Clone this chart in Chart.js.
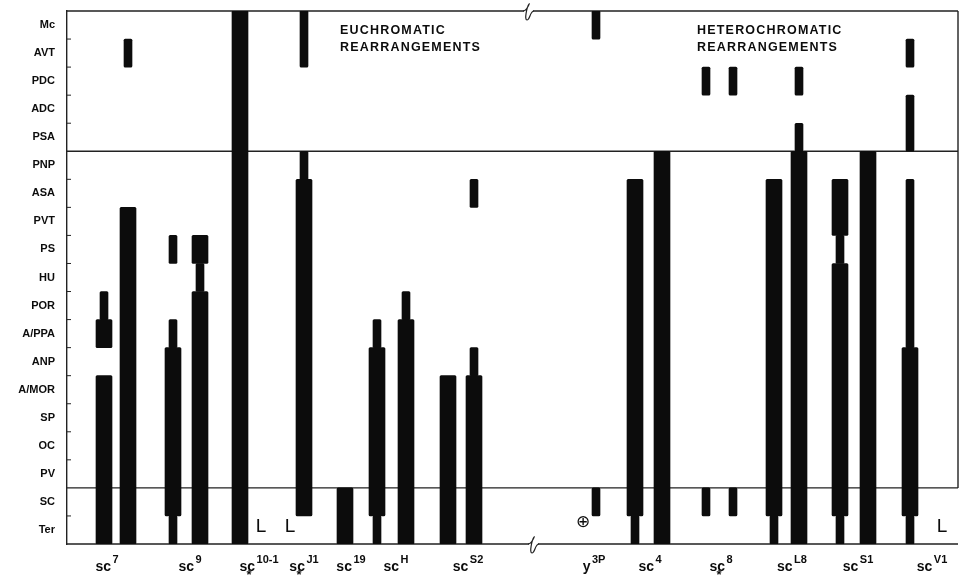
<!DOCTYPE html>
<html>
<head>
<meta charset="utf-8">
<style>
  html, body { margin: 0; padding: 0; background: #fff; }
  canvas { display: block; }
</style>
<script src="https://cdn.jsdelivr.net/npm/chart.js@4.4.0/dist/chart.umd.min.js"></script>
</head>
<body>
<canvas id="chart" width="960" height="575"></canvas>
<script>
'use strict';

// rows, top to bottom
var rows = ['Mc', 'AVT', 'PDC', 'ADC', 'PSA', 'PNP', 'ASA', 'PVT', 'PS', 'HU',
  'POR', 'A/PPA', 'ANP', 'A/MOR', 'SP', 'OC', 'PV', 'SC', 'Ter'];

// mutants along the bottom
var mutantBase = ['sc', 'sc', 'sc', 'sc', 'sc', 'sc', 'sc', 'y', 'sc', 'sc', 'sc', 'sc', 'sc'];
var mutantSup = ['7', '9', '10-1', 'J1', '19', 'H', 'S2', '3P', '4', '8', 'L8', 'S1', 'V1'];
var mutantPos = [4.0, 12.3, 19.2, 23.7, 28.4, 32.9, 40.1, 52.7, 58.3, 65.4, 72.5, 79.1, 86.5];
var mutantStar = [false, false, true, true, false, false, false, false, false, true, false, false, false];

// column tracks (position along x)
var columnPos = [3.7, 6.1, 10.6, 13.3, 17.3, 23.7, 27.8, 31.0, 33.9, 38.1, 40.7,
  52.9, 56.8, 59.5, 63.9, 66.6, 70.7, 73.2, 77.3, 80.1, 84.3];

// [column, lowest row, highest row]
var thickSegs = [
  [0, 'A/PPA', 'A/PPA'], [0, 'Ter', 'A/MOR'],
  [1, 'Ter', 'PVT'],
  [2, 'SC', 'ANP'],
  [3, 'PS', 'PS'], [3, 'Ter', 'POR'],
  [4, 'Ter', 'Mc'],
  [5, 'SC', 'ASA'],
  [6, 'Ter', 'SC'],
  [7, 'SC', 'ANP'],
  [8, 'Ter', 'A/PPA'],
  [9, 'Ter', 'A/MOR'],
  [10, 'Ter', 'A/MOR'],
  [12, 'SC', 'ASA'],
  [13, 'Ter', 'PNP'],
  [16, 'SC', 'ASA'],
  [17, 'Ter', 'PNP'],
  [18, 'PVT', 'ASA'], [18, 'SC', 'HU'],
  [19, 'Ter', 'PNP'],
  [20, 'SC', 'ANP']
];

var thinSegs = [
  [0, 'POR', 'POR'],
  [1, 'AVT', 'AVT'],
  [2, 'PS', 'PS'], [2, 'A/PPA', 'A/PPA'], [2, 'Ter', 'Ter'],
  [3, 'HU', 'HU'],
  [5, 'AVT', 'Mc'], [5, 'PNP', 'PNP'],
  [7, 'A/PPA', 'A/PPA'], [7, 'Ter', 'Ter'],
  [8, 'POR', 'POR'],
  [10, 'ANP', 'ANP'], [10, 'ASA', 'ASA'],
  [11, 'Mc', 'Mc'], [11, 'SC', 'SC'],
  [12, 'Ter', 'Ter'],
  [14, 'PDC', 'PDC'], [14, 'SC', 'SC'],
  [15, 'PDC', 'PDC'], [15, 'SC', 'SC'],
  [16, 'Ter', 'Ter'],
  [17, 'PDC', 'PDC'], [17, 'PSA', 'PSA'],
  [18, 'PS', 'PS'], [18, 'Ter', 'Ter'],
  [20, 'AVT', 'AVT'], [20, 'PSA', 'ADC'], [20, 'A/PPA', 'ASA'], [20, 'Ter', 'Ter']
];

// small marks in the lower band: [text, x, y]
var marks = [['L', 19.4, 0.6], ['L', 22.3, 0.6], ['L', 87.5, 0.6], ['\u2295', 51.6, 0.78]];

var dividers = [2, 14];

function rowBottom(name) {
  return rows.length - 1 - rows.indexOf(name);
}

function toBars(segs) {
  return segs.map(function(s) {
    return { x: columnPos[s[0]], y: [rowBottom(s[1]), rowBottom(s[2]) + 1] };
  });
}

var FONT = '"Liberation Sans", Arial, sans-serif';
var INK = '#0c0c0c';

function breakMark(ctx, x, y) {
  ctx.save();
  ctx.strokeStyle = '#fff';
  ctx.lineWidth = 4;
  ctx.beginPath();
  ctx.moveTo(x - 4, y);
  ctx.lineTo(x + 5, y);
  ctx.stroke();
  ctx.strokeStyle = '#222';
  ctx.lineWidth = 1.2;
  ctx.beginPath();
  ctx.moveTo(x - 5, y);
  ctx.bezierCurveTo(x - 1, y, x + 2, y - 9, x + 1, y - 7);
  ctx.bezierCurveTo(x - 1, y - 4, x - 4, y + 9, x - 1, y + 9);
  ctx.bezierCurveTo(x + 2, y + 9, x + 2, y, x + 6, y);
  ctx.stroke();
  ctx.restore();
}

var framePlugin = {
  id: 'frame',
  beforeDatasetsDraw: function(chart) {
    var ctx = chart.ctx, x = chart.scales.x, y = chart.scales.y;
    var a = chart.chartArea;
    ctx.save();
    ctx.strokeStyle = '#222';
    ctx.lineWidth = 1.4;
    ctx.beginPath();
    // top, bottom and dividers
    ctx.moveTo(a.left, y.getPixelForValue(19));
    ctx.lineTo(a.right, y.getPixelForValue(19));
    ctx.moveTo(a.left, y.getPixelForValue(0));
    ctx.lineTo(a.right, y.getPixelForValue(0));
    dividers.forEach(function(v) {
      ctx.moveTo(a.left, y.getPixelForValue(v));
      ctx.lineTo(a.right, y.getPixelForValue(v));
    });
    // right edge down to the lower band
    ctx.moveTo(a.right, y.getPixelForValue(19));
    ctx.lineTo(a.right, y.getPixelForValue(2));
    ctx.stroke();
    // little inner ticks on the row axis
    ctx.lineWidth = 1;
    ctx.beginPath();
    for (var v = 1; v < 19; v++) {
      if (dividers.indexOf(v) >= 0) continue;
      ctx.moveTo(a.left, y.getPixelForValue(v));
      ctx.lineTo(a.left + 4, y.getPixelForValue(v));
    }
    ctx.stroke();
    ctx.restore();
    breakMark(ctx, x.getPixelForValue(46.1), y.getPixelForValue(19));
    breakMark(ctx, x.getPixelForValue(46.6), y.getPixelForValue(0));
  },
  afterDraw: function(chart) {
    var ctx = chart.ctx, x = chart.scales.x, y = chart.scales.y;
    ctx.save();
    ctx.fillStyle = INK;
    ctx.textBaseline = 'alphabetic';

    // group headings
    ctx.font = 'bold 12.5px ' + FONT;
    ctx.letterSpacing = '1.2px';
    ctx.textAlign = 'left';
    ctx.fillText('EUCHROMATIC', x.getPixelForValue(27.3), 34);
    ctx.fillText('REARRANGEMENTS', x.getPixelForValue(27.3), 51);
    ctx.fillText('HETEROCHROMATIC', x.getPixelForValue(63.0), 34);
    ctx.fillText('REARRANGEMENTS', x.getPixelForValue(63.0), 51);
    ctx.letterSpacing = '0px';

    // mutant labels with superscripts
    var base = y.getPixelForValue(0) + 26.5;
    mutantBase.forEach(function(b, i) {
      ctx.font = 'bold 14px ' + FONT;
      var wb = ctx.measureText(b).width;
      ctx.font = 'bold 11px ' + FONT;
      var ws = ctx.measureText(mutantSup[i]).width;
      var left = x.getPixelForValue(mutantPos[i]) - (wb + 1.5 + ws) / 2;
      ctx.textAlign = 'left';
      ctx.font = 'bold 14px ' + FONT;
      ctx.fillText(b, left, base);
      ctx.font = 'bold 11px ' + FONT;
      ctx.fillText(mutantSup[i], left + wb + 1.5, base - 8);
      if (mutantStar[i]) {
        ctx.font = 'bold 13px ' + FONT;
        ctx.textAlign = 'center';
        ctx.fillText('*', left + wb * 0.62, base + 8);
      }
    });

    // L marks and the plus-circle
    ctx.textAlign = 'center';
    ctx.textBaseline = 'middle';
    marks.forEach(function(m) {
      ctx.font = (m[0] === 'L' ? '19px ' : '17px ') + FONT;
      ctx.fillText(m[0], x.getPixelForValue(m[1]), y.getPixelForValue(m[2]));
    });
    ctx.restore();
  }
};

new Chart(document.getElementById('chart'), {
  type: 'bar',
  data: {
    datasets: [{
      label: 'thick',
      data: toBars(thickSegs),
      backgroundColor: INK,
      barThickness: 16,
      grouped: false,
      borderRadius: 1.5,
      borderSkipped: false
    }, {
      label: 'thin',
      data: toBars(thinSegs),
      backgroundColor: INK,
      barThickness: 8,
      grouped: false,
      borderRadius: 1.5,
      borderSkipped: false
    }]
  },
  options: {
    responsive: false,
    devicePixelRatio: 1,
    animation: false,
    layout: { padding: { left: 0, right: 2, top: 11, bottom: 31 } },
    plugins: { legend: { display: false }, tooltip: { enabled: false } },
    scales: {
      x: { type: 'linear', min: 0, max: 89.1, offset: false, display: false },
      y: {
        type: 'linear',
        min: 0,
        max: 19,
        afterBuildTicks: function(scale) {
          scale.ticks = rows.map(function(r, i) { return { value: i + 0.5 }; });
        },
        afterFit: function(scale) {
          scale.width = 67;
          scale.paddingTop = 0;
          scale.paddingBottom = 0;
        },
        ticks: {
          autoSkip: false,
          padding: 12,
          color: INK,
          font: { family: FONT, size: 11, weight: 'bold' },
          callback: function(value) { return rows[Math.round(18.5 - value)]; }
        },
        grid: { display: false, drawTicks: false },
        border: { display: true, color: '#222', width: 1.4 }
      }
    }
  },
  plugins: [framePlugin]
});
</script>
</body>
</html>
